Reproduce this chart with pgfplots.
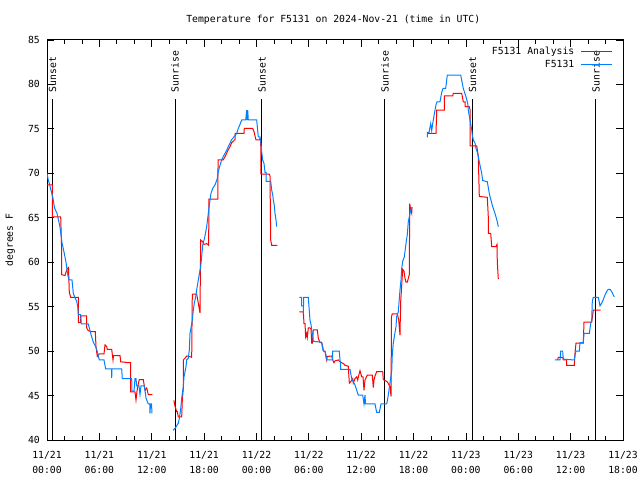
\documentclass[border=0pt]{standalone}
\usepackage{pgfplots}
\pgfplotsset{compat=1.18}
\usepackage{fontspec}
\setmainfont{DejaVu Sans Mono}
\setmonofont{DejaVu Sans Mono}
\definecolor{anared}{RGB}{255,0,0}
\definecolor{obsblue}{RGB}{0,128,255}
\begin{document}
\fontsize{9.8}{11.8}\selectfont
\begin{tikzpicture}
\begin{axis}[
  at={(0,0)}, anchor=south west,
  scale only axis, width=576bp, height=400bp,
  xmin=0, xmax=66, ymin=40, ymax=85,
  xtick={0,6,...,66},
  xticklabels={11/21\\00:00,11/21\\06:00,11/21\\12:00,11/21\\18:00,11/22\\00:00,11/22\\06:00,11/22\\12:00,11/22\\18:00,11/23\\00:00,11/23\\06:00,11/23\\12:00,11/23\\18:00},
  minor x tick num=2,
  ytick={40,45,...,85},
  tick align=inside,
  major tick length=7bp, minor tick length=4bp,
  xticklabel style={align=center, font=\fontsize{9.8}{15.5}\selectfont, inner sep=0pt, yshift=-11bp},
  yticklabel style={inner sep=0pt, xshift=-7bp},
  ylabel={degrees F},
  y label style={at={(axis description cs:-0.064,0.5)}, anchor=center},
  title={Temperature for F5131 on 2024-Nov-21 (time in UTC)},
  every axis title shift=0pt,
  title style={at={(axis description cs:0.497,1.05)}, anchor=center, inner sep=0pt},
  axis line style={line width=1bp},
  every tick/.style={black, line width=0.8bp},
  /pgf/number format/assume math mode=true,
  legend style={draw=none, fill=none, at={(0.9826,0.987)}, anchor=north east, row sep=1bp, inner sep=0pt, nodes={inner sep=1.5bp}},
  legend cell align=right,
  legend plot pos=right,
  legend image code/.code={\path (0bp,0bp); \draw[#1] (5bp,0bp) -- (36bp,0bp);},
]
\addlegendimage{anared, line width=1bp}
\addlegendentry{F5131 Analysis}
\addlegendimage{obsblue, line width=1bp}
\addlegendentry{F5131}

% sunrise / sunset markers
\addplot[black, line width=1bp, forget plot] coordinates {(0.630,40)(0.630,78.33)};
\addplot[black, line width=1bp, forget plot] coordinates {(14.667,40)(14.667,78.33)};
\addplot[black, line width=1bp, forget plot] coordinates {(24.635,40)(24.635,78.33)};
\addplot[black, line width=1bp, forget plot] coordinates {(38.729,40)(38.729,78.33)};
\addplot[black, line width=1bp, forget plot] coordinates {(48.755,40)(48.755,78.33)};
\addplot[black, line width=1bp, forget plot] coordinates {(62.906,40)(62.906,78.33)};
\node[rotate=90, anchor=west, inner sep=0pt] at (axis cs:0.630,79.1) {Sunset};
\node[rotate=90, anchor=west, inner sep=0pt] at (axis cs:14.667,79.1) {Sunrise};
\node[rotate=90, anchor=west, inner sep=0pt] at (axis cs:24.635,79.1) {Sunset};
\node[rotate=90, anchor=west, inner sep=0pt] at (axis cs:38.729,79.1) {Sunrise};
\node[rotate=90, anchor=west, inner sep=0pt] at (axis cs:48.755,79.1) {Sunset};
\node[rotate=90, anchor=west, inner sep=0pt] at (axis cs:62.906,79.1) {Sunrise};

% F5131 Analysis (red)
\addplot[anared, line width=1bp, forget plot] coordinates {
(0,68.7)(0.607,68.7)(0.630,65.1)(1.570,65.1)(1.661,62.0)(1.684,58.6)(2.063,58.5)(2.177,58.9)(2.349,59.3)(2.464,59.4)(2.555,56.6)(2.716,56.05)(3.586,56.05)(3.586,53.2)(3.861,53.2)(3.861,53.95)(4.549,53.95)(4.549,52.6)(4.732,52.3)(5.007,52.2)(5.534,52.2)(5.615,50.5)(5.764,49.4)(5.993,49.7)(6.531,49.7)(6.646,50.7)(6.841,50.5)(6.909,50.2)(7.414,50.2)(7.563,49.0)(7.620,49.5)(8.365,49.5)(8.445,48.8)(9.316,48.7)(9.591,48.7)(9.591,45.4)(10.083,45.4)(10.198,44.5)(10.313,45.5)(10.461,46.3)(10.576,46.8)(11.034,46.8)(11.229,45.6)(11.424,45.85)(11.607,45.1)(12.066,45.1)
};
\addplot[anared, line width=1bp, forget plot] coordinates {
(14.472,44.4)(14.552,44.4)(14.667,43.8)(14.861,43.2)(14.930,43.2)(15.045,42.6)(15.434,42.6)(15.503,44.5)(15.618,45.8)(15.618,49.0)(15.813,49.2)(16.007,49.45)(16.305,49.4)(16.580,49.3)(16.649,56.4)(17.153,56.4)(17.336,55.4)(17.531,54.3)(17.566,58.0)(17.612,62.5)(17.841,62.3)(17.990,62.0)(18.299,62.1)(18.520,61.9)(18.560,67.1)(19.570,67.1)(19.600,71.5)(20.201,71.5)(20.510,72.1)(20.740,72.6)(20.969,73.0)(21.163,73.45)(21.542,73.8)(21.542,74.5)(22.573,74.5)(22.607,75.05)(23.570,75.05)(23.719,74.7)(23.948,73.75)(24.326,73.75)(24.406,73.9)(24.486,73.75)(24.521,69.9)(25.472,69.9)(25.552,69.7)(25.632,62.5)(25.747,61.9)(26.389,61.9)
};
\addplot[anared, line width=1bp, forget plot] coordinates {
(28.910,54.4)(29.368,54.4)(29.448,53.1)(29.563,53.1)(29.643,51.6)(29.758,52.0)(29.826,51.55)(29.941,52.6)(30.135,52.6)(30.250,52.5)(30.330,50.9)(30.399,50.9)(30.445,51.4)(30.514,52.4)(30.972,52.4)(31.087,51.45)(31.281,50.95)(31.476,50.95)(31.591,50.5)(31.659,50.05)(31.854,49.95)(32.049,49.0)(32.118,49.4)(32.622,49.45)(32.736,49.0)(32.885,48.7)(33.000,48.9)(33.378,49.0)(33.573,48.8)(34.031,48.55)(34.146,48.4)(34.524,48.3)(34.639,46.4)(34.833,46.6)(35.028,46.9)(35.097,46.4)(35.292,46.9)(35.486,47.1)(35.601,46.75)(35.750,47.4)(35.865,47.8)(36.060,47.1)(36.208,47.1)(36.323,45.6)(36.438,46.75)(36.701,47.3)(37.274,47.3)(37.389,45.9)(37.469,46.75)(37.583,47.2)(37.778,47.7)(38.466,47.7)(38.534,46.8)(38.993,46.55)(39.302,46.0)(39.417,44.9)(39.474,53.9)(39.566,54.2)(40.138,54.2)(40.299,53.5)(40.448,51.8)(40.482,53.6)(40.528,55.6)(40.757,59.2)(40.906,59.0)(41.021,58.2)(41.135,57.75)(41.284,57.75)(41.513,58.6)(41.560,66.6)(41.674,65.9)(41.789,65.5)(41.823,66.2)
};
\addplot[anared, line width=1bp, forget plot] coordinates {
(43.576,74.5)(44.573,74.5)(44.653,77.1)(45.524,77.1)(45.524,78.7)(46.487,78.7)(46.555,79.0)(47.518,79.0)(47.701,78.05)(47.896,78.05)(47.896,77.5)(48.389,77.5)(48.469,77.2)(48.469,73.1)(49.237,73.1)(49.420,71.9)(49.535,67.4)(50.451,67.3)(50.566,65.1)(50.566,63.25)(50.841,63.25)(50.956,61.75)(51.448,61.75)(51.563,62.0)(51.597,60.05)(51.712,58.1)
};
\addplot[anared, line width=1bp, forget plot] coordinates {
(58.495,49.0)(58.586,49.3)(59.090,49.3)(59.159,49.0)(59.549,49.0)(59.549,48.4)(60.420,48.4)(60.500,49.75)(60.615,50.9)(61.451,50.9)(61.531,53.25)(62.414,53.25)(62.597,54.6)(63.445,54.6)
};

% F5131 (blue)
\addplot[obsblue, line width=1bp, forget plot] coordinates {
(0,70.0)(0.080,69.6)(0.172,69.1)(0.229,69.0)(0.458,68.1)(0.687,67.2)(0.859,66.1)(1.146,65.5)(1.260,65.0)(1.490,63.95)(1.604,63.1)(1.719,62.2)(1.948,61.15)(2.177,60.0)(2.292,59.1)(2.406,58.45)(2.521,58.0)(2.865,58.0)(3.014,56.5)(3.208,56.0)(3.403,55.6)(3.518,55.0)(3.586,54.1)(3.861,54.1)(3.930,53.05)(4.732,53.05)(5.007,52.0)(5.305,51.0)(5.580,50.5)(5.764,49.95)(5.993,49.0)(6.531,49.0)(6.646,48.4)(6.726,48.0)(7.414,48.0)(7.414,47.0)(7.448,48.0)(8.559,48.0)(8.628,46.9)(9.705,46.9)(9.739,45.5)(9.968,45.5)(10.083,46.9)(10.198,46.9)(10.278,46.1)(10.541,46.1)(10.656,45.1)(10.770,46.1)(11.148,46.1)(11.229,45.6)(11.344,44.7)(11.607,44.05)(11.802,44.05)(11.802,43.0)(11.859,44.05)(11.974,44.05)(12.031,43.0)
};
\addplot[obsblue, line width=1bp, forget plot] coordinates {
(14.437,41.1)(14.667,41.3)(14.861,41.6)(15.045,41.9)(15.159,42.4)(15.320,43.5)(15.434,44.7)(15.618,46.0)(15.698,47.1)(15.927,48.25)(16.007,49.0)(16.191,49.2)(16.305,50.1)(16.385,52.0)(16.500,52.6)(16.649,53.5)(16.764,54.6)(16.878,55.4)(17.039,56.1)(17.153,56.9)(17.336,58.0)(17.531,59.1)(17.612,59.5)(17.841,61.9)(18.070,62.8)(18.299,64.0)(18.482,65.5)(18.677,67.0)(18.792,67.75)(18.987,68.3)(19.250,68.7)(19.514,69.4)(19.628,70.2)(19.823,70.9)(20.017,71.5)(20.201,71.9)(20.396,72.25)(20.591,72.6)(20.774,73.0)(20.969,73.4)(21.163,73.8)(21.427,74.1)(21.737,74.5)(21.920,75.05)(22.115,75.5)(22.309,76.0)(22.768,76.0)(22.882,77.1)(22.917,76.0)(22.997,77.1)(23.066,76.0)(24.028,76.0)(24.097,75.25)(24.212,74.1)(24.406,74.1)(24.521,73.4)(24.601,72.4)(24.716,71.5)(24.865,71.1)(24.979,70.1)(25.094,70.1)(25.094,69.1)(25.632,69.1)(25.747,68.1)(25.861,67.6)(25.930,67.0)(26.045,66.4)(26.125,65.5)(26.240,64.75)(26.320,64.0)
};
\addplot[obsblue, line width=1bp, forget plot] coordinates {
(28.910,56.05)(29.185,56.05)(29.185,55.1)(29.368,55.1)(29.368,54.2)(29.414,56.05)(29.941,56.05)(30.056,54.5)(30.135,53.5)(30.250,53.0)(30.330,52.4)(30.445,51.8)(30.514,51.1)(31.476,51.0)(31.545,50.5)(31.659,50.0)(31.854,50.0)(31.969,49.5)(32.049,49.0)(32.736,49.0)(32.736,50.0)(33.493,50.0)(33.573,49.0)(33.653,48.4)(33.653,47.95)(34.719,47.95)(34.799,47.5)(34.914,46.9)(35.063,46.6)(35.292,46.2)(35.486,45.6)(35.669,45.05)(36.174,45.05)(36.323,44.05)(36.438,45.05)(36.495,44.05)(37.583,44.05)(37.778,43.1)(38.076,43.1)(38.271,44.05)(38.924,44.05)(39.108,45.05)(39.302,46.45)(39.497,47.7)(39.566,49.6)(39.680,50.9)(39.795,51.6)(39.990,52.75)(40.070,53.9)(40.253,54.4)(40.448,56.9)(40.563,58.0)(40.643,59.3)(40.757,60.1)(40.940,60.6)(41.021,61.2)(41.135,62.1)(41.284,63.1)(41.399,64.55)(41.594,65.5)(41.674,65.9)(41.789,66.1)(41.903,66.1)
};
\addplot[obsblue, line width=1bp, forget plot] coordinates {
(43.576,74.05)(43.576,74.6)(43.771,74.6)(43.966,75.6)(44.080,74.8)(44.195,75.6)(44.458,77.1)(44.573,77.7)(44.688,78.05)(45.031,78.05)(45.226,79.1)(45.375,79.55)(45.684,79.55)(45.867,81.05)(47.403,81.05)(47.632,79.9)(47.701,79.55)(48.010,78.6)(48.205,77.9)(48.274,77.1)(48.469,76.0)(48.664,74.9)(48.733,74.3)(48.847,73.75)(49.042,73.4)(49.156,72.8)(49.305,72.4)(49.420,71.9)(49.615,70.9)(49.810,70.0)(49.924,69.2)(50.451,69.05)(50.680,67.75)(50.760,67.4)(51.070,66.25)(51.333,65.5)(51.597,64.55)(51.712,64.0)
};
\addplot[obsblue, line width=1bp, forget plot] coordinates {
(58.208,49.0)(58.781,49.0)(58.861,50.0)(59.090,50.0)(59.159,49.1)(60.420,49.0)(60.500,49.55)(60.615,50.0)(60.993,50.0)(61.073,50.95)(61.451,50.95)(61.531,52.0)(62.139,52.0)(62.299,53.1)(62.414,53.5)(62.483,55.6)(62.597,56.05)(63.170,56.05)(63.365,55.1)(63.560,55.4)(63.743,55.8)(63.938,56.3)(64.132,56.7)(64.316,56.95)(64.510,56.95)(64.705,56.7)(64.889,56.3)(65.003,56.1)
};
\end{axis}
\pgfresetboundingbox
\useasboundingbox (-47bp,-40bp) rectangle (593bp,440bp);
\end{tikzpicture}
\end{document}
